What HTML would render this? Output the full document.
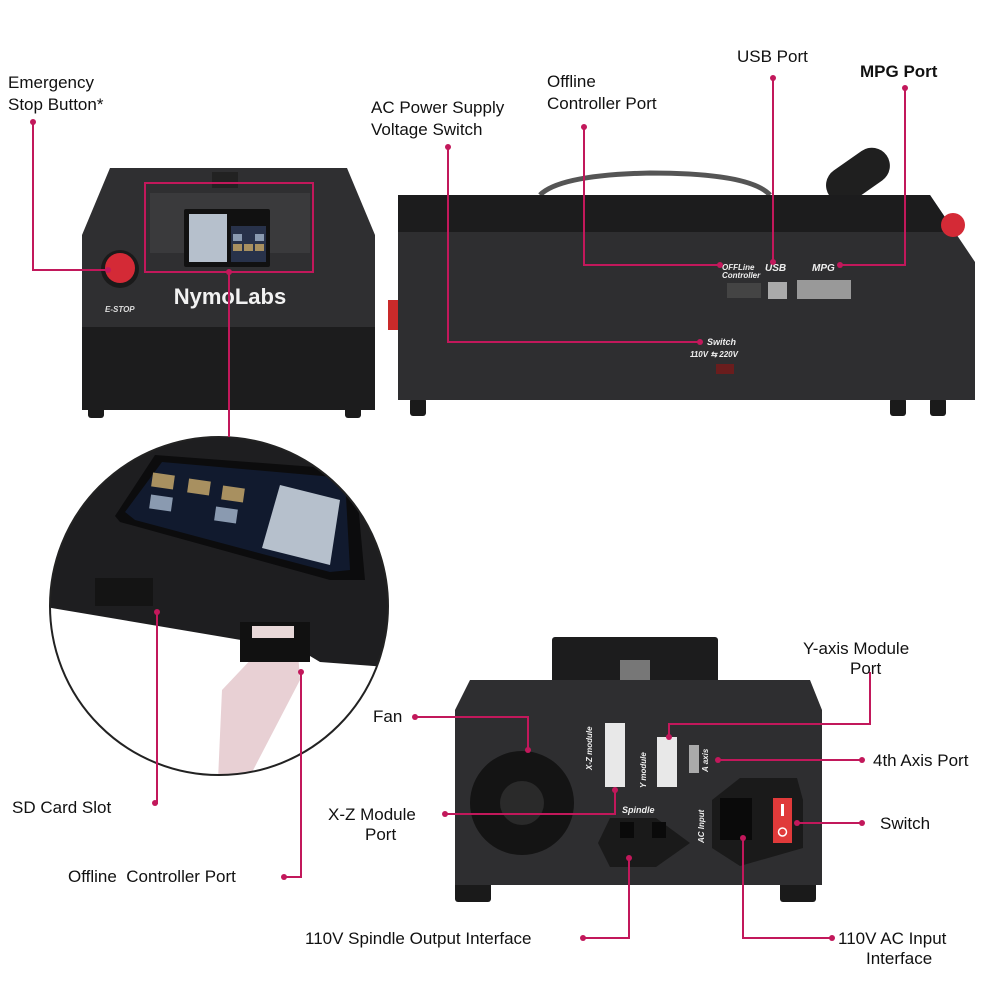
<!DOCTYPE html>
<html><head><meta charset="utf-8"><style>
html,body{margin:0;padding:0;background:#fff}
svg{display:block}
text{font-family:"Liberation Sans",sans-serif}
.l{font-size:17px;fill:#111}
</style></head><body>
<svg width="1000" height="1000" viewBox="0 0 1000 1000" xmlns="http://www.w3.org/2000/svg">
<rect width="1000" height="1000" fill="#fff"/>
<!-- top-left device -->
<rect x="88" y="405" width="16" height="13" rx="3" fill="#1a1a1a"/>
<rect x="345" y="405" width="16" height="13" rx="3" fill="#1a1a1a"/>
<path d="M110 168 L347 168 L375 235 L375 410 L82 410 L82 235 Z" fill="#2f2f31"/>
<path d="M82 327 L375 327 L375 410 L82 410 Z" fill="#1c1c1d"/>
<rect x="150" y="193" width="160" height="60" fill="#3a3a3c"/>
<rect x="212" y="172" width="26" height="16" fill="#222"/>
<rect x="184" y="209" width="86" height="58" rx="2" fill="#111"/>
<rect x="189" y="214" width="38" height="48" fill="#b6c0cc"/>
<rect x="231" y="226" width="35" height="36" fill="#28324a"/>
<rect x="233" y="244" width="9" height="7" fill="#a89060"/><rect x="244" y="244" width="9" height="7" fill="#a89060"/><rect x="255" y="244" width="9" height="7" fill="#a89060"/>
<rect x="233" y="234" width="9" height="7" fill="#8a9ab0"/><rect x="255" y="234" width="9" height="7" fill="#8a9ab0"/>
<rect x="145" y="183" width="168" height="89" fill="none" stroke="#c2185b" stroke-width="2"/>
<circle cx="120" cy="269" r="19" fill="#1a1a1a"/>
<circle cx="120" cy="268" r="15" fill="#d42a36"/>
<text x="230" y="304" text-anchor="middle" font-size="22" font-weight="bold" fill="#f2f2f2">NymoLabs</text>
<text x="105" y="312" font-size="8" font-weight="bold" font-style="italic" fill="#ddd">E-STOP</text>

<!-- top-right device -->
<path d="M540 195 Q560 175 650 173 Q750 173 770 195" fill="none" stroke="#555" stroke-width="5"/>
<g transform="rotate(-35 855 180)"><rect x="825" y="160" width="70" height="36" rx="18" fill="#1f1f1f"/></g>
<rect x="410" y="398" width="16" height="18" rx="3" fill="#1a1a1a"/>
<rect x="890" y="398" width="16" height="18" rx="3" fill="#1a1a1a"/>
<rect x="930" y="398" width="16" height="18" rx="3" fill="#1a1a1a"/>
<path d="M398 195 L930 195 L975 262 L975 400 L398 400 Z" fill="#2e2e30"/>
<path d="M398 195 L930 195 L955 232 L398 232 Z" fill="#1c1c1d"/>
<rect x="388" y="300" width="10" height="30" fill="#c92a2a"/>
<circle cx="953" cy="225" r="12" fill="#d42a36"/>
<text x="722" y="270" font-size="8" font-weight="bold" font-style="italic" fill="#eee">OFFLine</text>
<text x="722" y="278" font-size="8" font-weight="bold" font-style="italic" fill="#eee">Controller</text>
<text x="765" y="271" font-size="10" font-weight="bold" font-style="italic" fill="#eee">USB</text>
<text x="812" y="271" font-size="10" font-weight="bold" font-style="italic" fill="#eee">MPG</text>
<rect x="727" y="283" width="34" height="15" fill="#444"/>
<rect x="768" y="282" width="19" height="17" fill="#aaa"/>
<rect x="797" y="280" width="54" height="19" fill="#999"/>
<text x="707" y="345" font-size="9" font-weight="bold" font-style="italic" fill="#eee">Switch</text>
<text x="690" y="357" font-size="8" font-weight="bold" font-style="italic" fill="#eee">110V ⇆ 220V</text>
<rect x="716" y="364" width="18" height="10" fill="#6a1d1d"/>

<!-- circle zoom -->
<clipPath id="cc"><circle cx="219" cy="606" r="169"/></clipPath>
<g clip-path="url(#cc)">
<rect x="40" y="430" width="360" height="360" fill="#fff"/>
<path d="M40 430 L400 430 L400 668 L320 662 L300 650 L40 606 Z" fill="#1e1e20"/>
<path d="M115 516 L155 455 L355 470 L365 580 L330 580 L120 522 Z" fill="#0c0c0d"/>
<path d="M125 512 L162 462 L345 478 L350 570 L330 572 L135 520 Z" fill="#111a2e"/>
<path d="M280 485 L340 500 L330 565 L262 548 Z" fill="#b6c0cc"/>
<rect x="152" y="474" width="22" height="14" fill="#a89060" transform="rotate(8 163 481)"/>
<rect x="188" y="480" width="22" height="14" fill="#a89060" transform="rotate(8 199 487)"/>
<rect x="222" y="487" width="22" height="14" fill="#a89060" transform="rotate(8 233 494)"/>
<rect x="150" y="496" width="22" height="14" fill="#8a9ab0" transform="rotate(8 161 503)"/>
<rect x="215" y="508" width="22" height="14" fill="#8a9ab0" transform="rotate(8 226 515)"/>
<rect x="95" y="578" width="58" height="28" fill="#141414"/>
<path d="M222 690 L258 652 L298 652 L300 680 L248 780 L218 780 Z" fill="#e8d0d4"/>
<rect x="240" y="622" width="70" height="40" fill="#111"/>
<rect x="252" y="626" width="42" height="12" fill="#e8d8d8"/>
</g>
<circle cx="219" cy="606" r="169" fill="none" stroke="#222" stroke-width="2"/>

<!-- bottom device -->
<rect x="552" y="637" width="166" height="50" rx="3" fill="#1c1c1d"/>
<rect x="620" y="660" width="30" height="20" fill="#777"/>
<rect x="455" y="882" width="36" height="20" rx="3" fill="#1a1a1a"/>
<rect x="780" y="882" width="36" height="20" rx="3" fill="#1a1a1a"/>
<path d="M470 680 L810 680 L822 710 L822 885 L455 885 L455 710 Z" fill="#2e2e30"/>
<circle cx="522" cy="803" r="52" fill="#141414"/>
<circle cx="522" cy="803" r="22" fill="#2a2a2a"/>
<rect x="605" y="723" width="20" height="64" fill="#e8e8e8"/>
<rect x="657" y="737" width="20" height="50" fill="#e8e8e8"/>
<rect x="689" y="745" width="10" height="28" fill="#aaa"/>
<text transform="translate(592 770) rotate(-90)" font-size="8" font-weight="bold" font-style="italic" fill="#eee">X-Z module</text>
<text transform="translate(646 788) rotate(-90)" font-size="8" font-weight="bold" font-style="italic" fill="#eee">Y module</text>
<text transform="translate(708 772) rotate(-90)" font-size="8" font-weight="bold" font-style="italic" fill="#eee">A axis</text>
<text x="622" y="813" font-size="9" font-weight="bold" font-style="italic" fill="#eee">Spindle</text>
<path d="M598 843 L610 818 L656 818 L690 843 L656 867 L610 867 Z" fill="#1a1a1a"/>
<rect x="620" y="822" width="14" height="16" fill="#0a0a0a"/><rect x="652" y="822" width="14" height="16" fill="#0a0a0a"/>
<text transform="translate(704 843) rotate(-90)" font-size="8" font-weight="bold" font-style="italic" fill="#eee">AC Input</text>
<path d="M712 800 L740 778 L797 778 L803 800 L803 848 L740 866 L712 848 Z" fill="#1a1a1a"/>
<rect x="720" y="798" width="32" height="42" fill="#0a0a0a"/>
<rect x="773" y="798" width="19" height="45" fill="#e03a3a"/>
<rect x="781" y="804" width="3" height="12" fill="#fff"/>
<circle cx="782.5" cy="832" r="4" fill="none" stroke="#fff" stroke-width="1.5"/>

<!-- connector lines -->
<g stroke="#c2185b" stroke-width="2" fill="none">
<path d="M33 122 V270 H108"/>
<path d="M229 272 V437"/>
<path d="M448 147 V342 H700"/>
<path d="M584 127 V265 H720"/>
<path d="M773 78 V262"/>
<path d="M905 88 V265 H840"/>
<path d="M415 717 H528 V750"/>
<path d="M870 672 V724 H669 V737"/>
<path d="M862 760 H718"/>
<path d="M445 814 H615 V790"/>
<path d="M862 823 H797"/>
<path d="M155 803 H157 V612"/>
<path d="M284 877 H301 V672"/>
<path d="M583 938 H629 V858"/>
<path d="M832 938 H743 V838"/>
</g>
<g fill="#c2185b">
<circle cx="33" cy="122" r="3"/><circle cx="108" cy="270" r="3"/><circle cx="229" cy="272" r="3"/>
<circle cx="448" cy="147" r="3"/><circle cx="700" cy="342" r="3"/>
<circle cx="584" cy="127" r="3"/><circle cx="720" cy="265" r="3"/>
<circle cx="773" cy="78" r="3"/><circle cx="773" cy="262" r="3"/>
<circle cx="905" cy="88" r="3"/><circle cx="840" cy="265" r="3"/>
<circle cx="415" cy="717" r="3"/><circle cx="528" cy="750" r="3"/>
<circle cx="669" cy="737" r="3"/><circle cx="862" cy="760" r="3"/><circle cx="718" cy="760" r="3"/>
<circle cx="445" cy="814" r="3"/><circle cx="615" cy="790" r="3"/>
<circle cx="862" cy="823" r="3"/><circle cx="797" cy="823" r="3"/>
<circle cx="155" cy="803" r="3"/><circle cx="157" cy="612" r="3"/>
<circle cx="284" cy="877" r="3"/><circle cx="301" cy="672" r="3"/>
<circle cx="583" cy="938" r="3"/><circle cx="629" cy="858" r="3"/>
<circle cx="832" cy="938" r="3"/><circle cx="743" cy="838" r="3"/>
</g>

<!-- labels -->
<text class="l" x="8" y="88">Emergency</text>
<text class="l" x="8" y="110">Stop Button*</text>
<text class="l" x="371" y="113">AC Power Supply</text>
<text class="l" x="371" y="135">Voltage Switch</text>
<text class="l" x="547" y="87">Offline</text>
<text class="l" x="547" y="109">Controller Port</text>
<text class="l" x="737" y="62">USB Port</text>
<text class="l" x="860" y="77" font-weight="bold">MPG Port</text>
<text class="l" x="373" y="722">Fan</text>
<text class="l" x="803" y="654">Y-axis Module</text>
<text class="l" x="850" y="674">Port</text>
<text class="l" x="873" y="766">4th Axis Port</text>
<text class="l" x="12" y="813">SD Card Slot</text>
<text class="l" x="328" y="820">X-Z Module</text>
<text class="l" x="365" y="840">Port</text>
<text class="l" x="880" y="829">Switch</text>
<text class="l" x="68" y="882">Offline&#160; Controller Port</text>
<text class="l" x="305" y="944">110V Spindle Output Interface</text>
<text class="l" x="838" y="944">110V AC Input</text>
<text class="l" x="866" y="964">Interface</text>
</svg>
</body></html>
